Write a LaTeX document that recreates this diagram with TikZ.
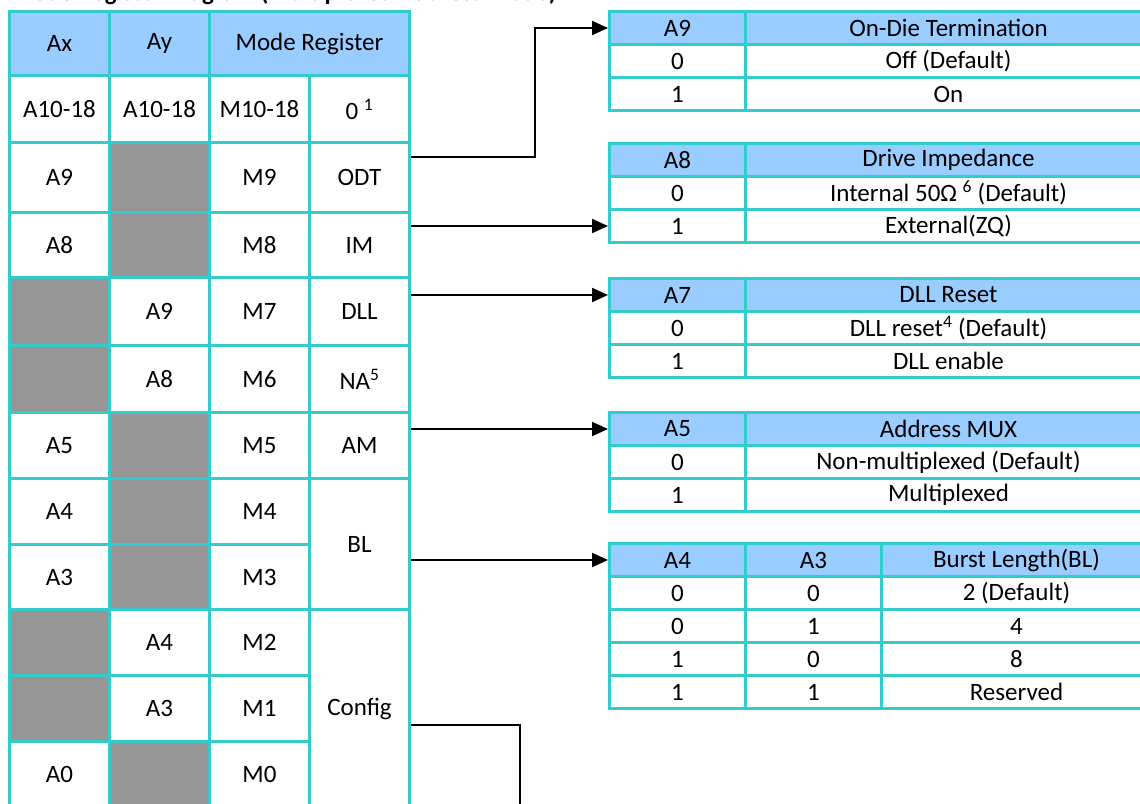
\documentclass[tikz,border=0pt]{standalone}
\usepackage{fontspec}
\setmainfont{Carlito}
\usetikzlibrary{arrows.meta}
\definecolor{tq}{RGB}{51,204,204}
\definecolor{hdblue}{RGB}{153,204,255}
\definecolor{cellgrey}{RGB}{150,150,150}

\begin{document}
\begin{tikzpicture}[x=1pt,y=-1pt,->,>={Triangle[length=16pt,width=14pt]},
  every node/.style={font=\fontsize{25}{30}\selectfont},
  cell/.style={draw=tq,line width=3pt,anchor=north west,inner sep=0pt,minimum width=100pt,fill=white},
  opt/.style={draw=tq,line width=3pt,anchor=north west,inner sep=0pt,minimum height=33pt,fill=white},
  plain/.style={},
  blank/.style={fill=cellgrey},
  head/.style={fill=hdblue},
  wire/.style={line width=2pt,black}]
\useasboundingbox (0,0) rectangle (1140,803);
\node[anchor=base west,font=\fontsize{25}{30}\selectfont\bfseries] (title) at (8,0.5) {Mode Register Diagram (Multiplexed Address Mode)};
% register table
\node[cell,head,minimum height=64] (hax) at (8,10) {Ax};
\node[cell,head,minimum height=64] (hay) at (108,10) {Ay};
\node[cell,head,minimum height=64,minimum width=200] (hmr) at (208,10) {Mode Register};
\foreach \i/\t/\h/\ax/\sx/\ay/\sy in {10/74/67/A10-18/plain/A10-18/plain, 9/141/70/A9/plain//blank,
    8/211/65/A8/plain//blank, 7/276/68//blank/A9/plain, 6/344/67//blank/A8/plain,
    5/411/66/A5/plain//blank, 4/477/66/A4/plain//blank, 3/543/65/A3/plain//blank,
    2/608/66//blank/A4/plain, 1/674/66//blank/A3/plain, 0/740/66/A0/plain//blank}{
  \node[cell,\sx,minimum height=\h] (ax\i) at (8,\t) {\ax};
  \node[cell,\sy,minimum height=\h] (ay\i) at (108,\t) {\ay};
  \node[cell,minimum height=\h] (m\i) at (208,\t) {\ifnum\i=10 M10-18\else M\i\fi};
}
\node[cell,minimum height=67] (fz) at (308,74) {0 \textsuperscript{1}};
\node[cell,minimum height=70] (odt) at (308,141) {ODT};
\node[cell,minimum height=65] (im) at (308,211) {IM};
\node[cell,minimum height=68] (dll) at (308,276) {DLL};
\node[cell,minimum height=67] (na) at (308,344) {NA\textsuperscript{5}};
\node[cell,minimum height=66] (am) at (308,411) {AM};
\node[cell,minimum height=131] (bl) at (308,477) {BL};
\node[cell,minimum height=198] (cfg) at (308,608) {Config};
% option tables
\foreach \n/\t/\k/\hd/\va/\vb in {odt/10/A9/On-Die Termination/Off (Default)/On,
    im/142/A8/Drive Impedance/Internal 50Ω \textsuperscript{6} (Default)/External(ZQ),
    dll/277/A7/DLL Reset/DLL reset\textsuperscript{4} (Default)/DLL enable,
    am/411/A5/Address MUX/Non-multiplexed (Default)/Multiplexed}{
  \node[opt,head,minimum width=136] (\n-h) at (608,\t) {\k};
  \node[opt,head,minimum width=406] (\n-t) at (744,\t) {\hd};
  \node[opt,minimum width=136] (\n-a0) at (608,\t+33) {0};
  \node[opt,minimum width=406] (\n-b0) at (744,\t+33) {\va};
  \node[opt,minimum width=136] (\n-a1) at (608,\t+66) {1};
  \node[opt,minimum width=406] (\n-b1) at (744,\t+66) {\vb};
}
\node[opt,head,minimum width=136] (bl-h) at (608,542) {A4};
\node[opt,head,minimum width=136] (bl-g) at (744,542) {A3};
\node[opt,head,minimum width=270] (bl-t) at (880,542) {Burst Length(BL)};
\foreach \r/\p/\q/\v in {1/0/0/2 (Default), 2/0/1/4, 3/1/0/8, 4/1/1/Reserved}{
  \node[opt,minimum width=136] (bl-a\r) at (608,542+33*\r) {\p};
  \node[opt,minimum width=136] (bl-b\r) at (744,542+33*\r) {\q};
  \node[opt,minimum width=270] (bl-c\r) at (880,542+33*\r) {\v};
}
% connectors
\coordinate (cfg-end) at (520,820);
\draw[wire] ([yshift=21pt]odt.east) -- ++(124,0) |- (odt-h.west);
\draw[wire] (im.east |- im-a1.west) -- (im-a1.west);
\draw[wire] (dll.east |- dll-h.west) -- (dll-h.west);
\draw[wire] (am.east |- am-h.west) -- (am-h.west);
\draw[wire] (bl.east |- bl-h.west) -- (bl-h.west);
\draw[wire] ([yshift=-16pt]cfg.east) -| (cfg-end);
\end{tikzpicture}
\end{document}
